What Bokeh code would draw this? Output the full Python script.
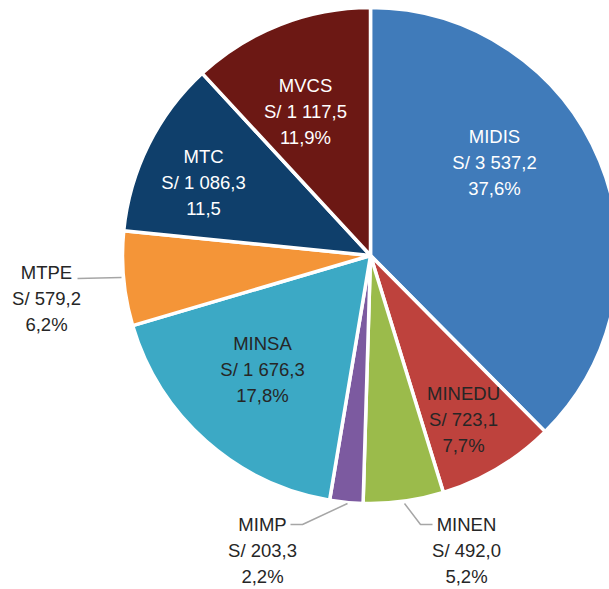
import math
from bokeh.plotting import figure
from bokeh.models import Range1d, ColumnDataSource
from bokeh.core.properties import value
from bokeh.embed import file_html
from bokeh.resources import INLINE

# ---- data ----
categories = ["MIDIS", "MINEDU", "MINEN", "MIMP", "MINSA", "MTPE", "MTC", "MVCS"]
amounts = [3537.2, 723.1, 492.0, 203.3, 1676.3, 579.2, 1086.3, 1117.5]
third_line = ["37,6%", "7,7%", "5,2%", "2,2%", "17,8%", "6,2%", "11,5", "11,9%"]

# ---- styles / layout ----
colors = ["#407BBA", "#BE423D", "#9BBB4B", "#7C5AA0", "#3CA9C5", "#F49538", "#0F3F6B", "#6C1814"]
text_colors = ["white", "#262626", "#262626", "#262626", "#262626", "#262626", "white", "white"]
# label anchor (screen px): x centre, baseline of first line
label_pos = [(494, 143), (463, 400), (466, 531), (262, 531), (262, 350), (46, 279), (203, 163), (305, 92)]
line_gap = 26
text_shift = -7
leaders = [
    [(77, 278), (121, 277)],
    [(290, 524), (302, 524), (347, 503)],
    [(404, 503), (420, 524), (432, 524)],
]

W, H = 609, 589
CX, CY, R = 370, 255, 248


def py(y):  # screen y -> data y
    return H - y


def fmt(v):
    s = f"{v:,.1f}".replace(",", " ").replace(".", ",")
    return "S/ " + s


total = sum(amounts)
starts, ends = [], []
cum = 0.0
for a in amounts:
    t1 = cum / total * 2 * math.pi
    cum += a
    t2 = cum / total * 2 * math.pi
    starts.append(math.pi / 2 - t2)
    ends.append(math.pi / 2 - t1)

p = figure(frame_width=W, frame_height=H, output_backend="svg", toolbar_location=None,
           x_range=Range1d(0, W), y_range=Range1d(0, H),
           x_axis_location=None, y_axis_location=None,
           min_border=0)
p.grid.visible = False
p.outline_line_color = None
p.background_fill_color = "white"

src = ColumnDataSource(dict(start=starts, end=ends, color=colors))
p.wedge(x=CX, y=py(CY), radius=R, start_angle="start", end_angle="end",
        fill_color="color", line_color="white", line_width=3.5, source=src)

for seg in leaders:
    p.line([q[0] for q in seg], [py(q[1]) for q in seg], line_color="#A6A6A6", line_width=1.5)

tx, ty, tt, tc = [], [], [], []
for i, cat in enumerate(categories):
    x0, b0 = label_pos[i]
    lines = [cat, fmt(amounts[i]), third_line[i]]
    for k, ln in enumerate(lines):
        tx.append(x0)
        ty.append(py(b0 + k * line_gap + text_shift))
        tt.append(ln)
        tc.append(text_colors[i])

tsrc = ColumnDataSource(dict(x=tx, y=ty, text=tt, color=tc))
p.text(x="x", y="y", text="text", text_color="color", source=tsrc,
       text_align="center", text_baseline="alphabetic",
       text_font=value("Liberation Sans"), text_font_size="18.5px")

open("out.html", "w").write(file_html(p, INLINE))
